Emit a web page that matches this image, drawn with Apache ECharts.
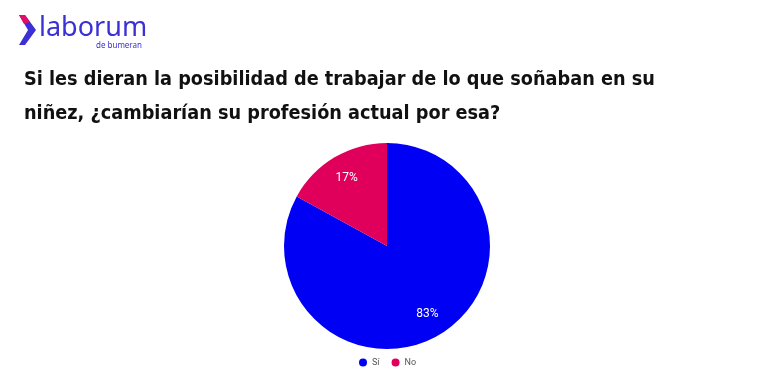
<!DOCTYPE html>
<html><head><meta charset="utf-8">
<script src="https://cdn.jsdelivr.net/npm/echarts@6/dist/echarts.min.js"></script>
<style>html,body{margin:0;padding:0;background:#fff}#c{width:766px;height:378px}</style>
</head><body><div id="c"></div>
<script>
const categories = ['Sí', 'No'];
const values = [83, 17];
const colors = ['#0000f5', '#e0005b'];
const titleLines = ['Si les dieran la posibilidad de trabajar de lo que soñaban en su', 'niñez, ¿cambiarían su profesión actual por esa?'];

const pieData = categories.map((c, i) => ({name: c, value: values[i]}));
const chart = echarts.init(document.getElementById('c'));
chart.setOption({
  animation: false,
  backgroundColor: '#fff',
  color: colors,
  graphic: [
    {type: 'polygon', shape: {points: [[19,15],[25,15],[36,30],[25,45],[19,45],[28,30]]}, style: {fill: '#3b2fd6'}},
    {type: 'polygon', shape: {points: [[19,15],[25,15],[30,22],[24,24]]}, style: {fill: '#e0106a'}},
    {type: 'text', left: 39, top: 15, style: {text: 'laborum', font: '400 27px "Noto Sans", sans-serif', fill: '#3b2fd6'}},
    {type: 'text', left: 96, top: 42, style: {text: 'de bumeran', font: '400 8px "Noto Sans", sans-serif', fill: '#3b2fd6'}},
    {type: 'text', left: 24, top: 70, style: {text: titleLines[0], font: 'bold 19.7px "DejaVu Sans Condensed", sans-serif', fill: '#111'}},
    {type: 'text', left: 24, top: 104, style: {text: titleLines[1], font: 'bold 19.7px "DejaVu Sans Condensed", sans-serif', fill: '#111'}}
  ],
  legend: {
    bottom: 6, left: 354, icon: 'circle', itemWidth: 8, itemHeight: 8, itemGap: 12,
    textStyle: {fontSize: 9, color: '#555', fontFamily: 'Roboto'},
    data: categories
  },
  series: [{
    type: 'pie',
    center: [387, 246],
    radius: [0, 103],
    startAngle: 90,
    clockwise: true,
    data: pieData,
    label: {show: false},
    labelLine: {show: false},
    itemStyle: {borderWidth: 0}
  }, {
    type: 'pie',
    center: [387, 246],
    radius: [50, 103],
    startAngle: 90,
    clockwise: true,
    silent: true,
    data: pieData,
    itemStyle: {color: 'rgba(0,0,0,0)', borderWidth: 0},
    label: {position: 'inside', formatter: '{d}%', color: '#fff', fontSize: 12, fontFamily: 'Roboto'},
    labelLine: {show: false},
    emphasis: {disabled: true}
  }]
});
</script></body></html>
